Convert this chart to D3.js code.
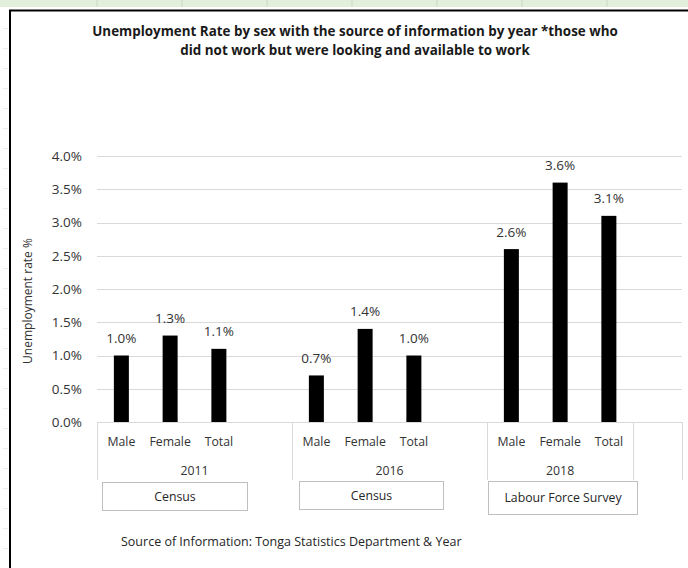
<!DOCTYPE html>
<html>
<head>
<meta charset="utf-8">
<script src="https://cdn.jsdelivr.net/npm/d3@7"></script>
<style>
  html, body { margin: 0; padding: 0; background: #fff; }
  svg { display: block; font-family: "Open Sans", "Noto Sans", sans-serif; }
</style>
</head>
<body>
<svg id="chart" width="688" height="568"></svg>
<script>
// ---- data ----
const years = ["2011", "2016", "2018"];
const sources = ["Census", "Census", "Labour Force Survey"];
const sexes = ["Male", "Female", "Total"];
const rate2011 = [1.0, 1.3, 1.1];
const rate2016 = [0.7, 1.4, 1.0];
const rate2018 = [2.6, 3.6, 3.1];
const yTickValues = [0, 0.5, 1.0, 1.5, 2.0, 2.5, 3.0, 3.5, 4.0];
const titleLines = [
  "Unemployment Rate by sex with the source of information by year *those who",
  "did not work but were looking and available to work"
];
const yAxisTitle = "Unemployment rate %";
const sourceNote = "Source of Information: Tonga Statistics Department & Year";

// category groups on the two-level axis (blank slots keep Excel's spacing)
const groups = [
  { year: years[0], cats: [...sexes, ""], values: rate2011 },
  { year: years[1], cats: [...sexes, ""], values: rate2016 },
  { year: years[2], cats: [...sexes], values: rate2018 },
  { year: "", cats: [""], values: [] }
];

const slots = [];
groups.forEach((g, gi) => g.cats.forEach((c, ci) => {
  slots.push({ key: gi + "|" + ci, group: gi, cat: c, value: g.values[ci] });
}));

const svg = d3.select("#chart");

// ---- spreadsheet backdrop around the chart object ----
svg.append("rect").attr("x", 0).attr("y", 0).attr("width", 688).attr("height", 7)
  .attr("fill", "#e2efda");
svg.append("g").selectAll("line").data(d3.range(97, 688, 85)).join("line")
  .attr("x1", d => d).attr("x2", d => d).attr("y1", 0).attr("y2", 7)
  .attr("stroke", "#cdd6c6").attr("stroke-width", 1);
svg.append("g").selectAll("line").data(d3.range(28, 568, 20)).join("line")
  .attr("x1", 3).attr("x2", 8).attr("y1", d => d + 0.5).attr("y2", d => d + 0.5)
  .attr("stroke", "#ececec");

// ---- chart object frame ----
svg.append("path").attr("d", "M10,568 V10.5 H688")
  .attr("fill", "none").attr("stroke", "#000").attr("stroke-width", 2);

// ---- title ----
svg.append("g").selectAll("text").data(titleLines).join("text")
  .attr("x", 355).attr("y", (d, i) => 36 + i * 19)
  .attr("text-anchor", "middle").attr("font-weight", "bold")
  .attr("font-size", 13.4).attr("fill", "#1a1a1a")
  .text(d => d);

// ---- scales ----
const plot = { left: 97, right: 682, top: 156, bottom: 422 };
const y = d3.scaleLinear().domain([0, 4.0]).range([plot.bottom, plot.top]);
const x = d3.scaleBand().domain(slots.map(s => s.key))
  .range([plot.left, plot.right]).padding(0);
const barW = x.bandwidth() / 3.25;

// ---- gridlines + value axis ----
const yAxis = d3.axisLeft(y).tickValues(yTickValues)
  .tickFormat(d => d.toFixed(1) + "%").tickSize(0).tickPadding(15);
const yg = svg.append("g").attr("transform", `translate(${plot.left},0)`).call(yAxis);
yg.select(".domain").remove();
yg.selectAll("text").attr("font-size", 13.5).attr("fill", "#333")
  .attr("font-family", "Open Sans, sans-serif");

svg.append("g").selectAll("line").data(yTickValues.filter(v => v > 0)).join("line")
  .attr("x1", plot.left).attr("x2", plot.right)
  .attr("y1", d => Math.round(y(d)) + 0.5).attr("y2", d => Math.round(y(d)) + 0.5)
  .attr("stroke", "#d9d9d9").attr("stroke-width", 1);

svg.append("text")
  .attr("transform", `translate(32,${(plot.top + plot.bottom) / 2 + 12}) rotate(-90)`)
  .attr("text-anchor", "middle").attr("font-size", 12).attr("fill", "#333")
  .text(yAxisTitle);

// ---- bars ----
const barSlots = slots.filter(s => s.value !== undefined);
svg.append("g").selectAll("rect").data(barSlots).join("rect")
  .attr("x", s => x(s.key) + (x.bandwidth() - barW) / 2)
  .attr("y", s => y(s.value))
  .attr("width", barW)
  .attr("height", s => y(0) - y(s.value))
  .attr("fill", "#000");

svg.append("g").selectAll("text").data(barSlots).join("text")
  .attr("x", s => x(s.key) + x.bandwidth() / 2)
  .attr("y", s => y(s.value) - 17.5)
  .attr("text-anchor", "middle").attr("dominant-baseline", "central")
  .attr("font-size", 13.5).attr("fill", "#333")
  .text(s => s.value.toFixed(1) + "%");

// ---- two-level category axis ----
const groupSpan = groups.map((g, gi) => {
  const ks = slots.filter(s => s.group === gi).map(s => s.key);
  return { x0: x(ks[0]), x1: x(ks[ks.length - 1]) + x.bandwidth(), year: g.year };
});

const ax = svg.append("g");
ax.append("line").attr("x1", plot.left).attr("x2", plot.right)
  .attr("y1", plot.bottom + 0.5).attr("y2", plot.bottom + 0.5)
  .attr("stroke", "#d9d9d9");
const edges = [groupSpan[0].x0, ...groupSpan.map(g => g.x1)];
ax.selectAll(".div").data(edges).join("line").attr("class", "div")
  .attr("x1", d => Math.round(d) + 0.5).attr("x2", d => Math.round(d) + 0.5)
  .attr("y1", plot.bottom).attr("y2", plot.bottom + 58)
  .attr("stroke", "#d9d9d9");

ax.selectAll(".cat").data(slots.filter(s => s.cat)).join("text").attr("class", "cat")
  .attr("x", s => x(s.key) + x.bandwidth() / 2).attr("y", plot.bottom + 19)
  .attr("text-anchor", "middle").attr("dominant-baseline", "central")
  .attr("font-size", 12.3).attr("fill", "#333")
  .text(s => s.cat);

ax.selectAll(".yr").data(groupSpan.filter(g => g.year)).join("text").attr("class", "yr")
  .attr("x", g => (g.x0 + g.x1) / 2).attr("y", plot.bottom + 48)
  .attr("text-anchor", "middle").attr("dominant-baseline", "central")
  .attr("font-size", 12.3).attr("fill", "#333")
  .text(g => g.year);

// ---- source text boxes under each year ----
const boxLayout = [
  { dx: 5, w: 145, top: 482, h: 28, ty: 496 },
  { dx: 7, w: 144, top: 481, h: 28, ty: 494.5 },
  { dx: 1, w: 149, top: 481, h: 33, ty: 497 }
];
const boxes = svg.append("g").selectAll("g").data(sources).join("g")
  .attr("transform", (d, i) => `translate(${Math.round(groupSpan[i].x0 + boxLayout[i].dx) + 0.5},${boxLayout[i].top + 0.5})`);
boxes.append("rect")
  .attr("width", (d, i) => boxLayout[i].w).attr("height", (d, i) => boxLayout[i].h)
  .attr("fill", "#fff").attr("stroke", "#bfbfbf");
boxes.append("text")
  .attr("x", (d, i) => boxLayout[i].w / 2).attr("y", (d, i) => boxLayout[i].ty - boxLayout[i].top)
  .attr("text-anchor", "middle").attr("dominant-baseline", "central")
  .attr("font-size", 12.3).attr("fill", "#262626")
  .text(d => d);

// ---- footnote ----
svg.append("text").attr("x", 121).attr("y", 541)
  .attr("dominant-baseline", "central").attr("font-size", 12.5).attr("fill", "#262626")
  .text(sourceNote);
</script>
</body>
</html>
